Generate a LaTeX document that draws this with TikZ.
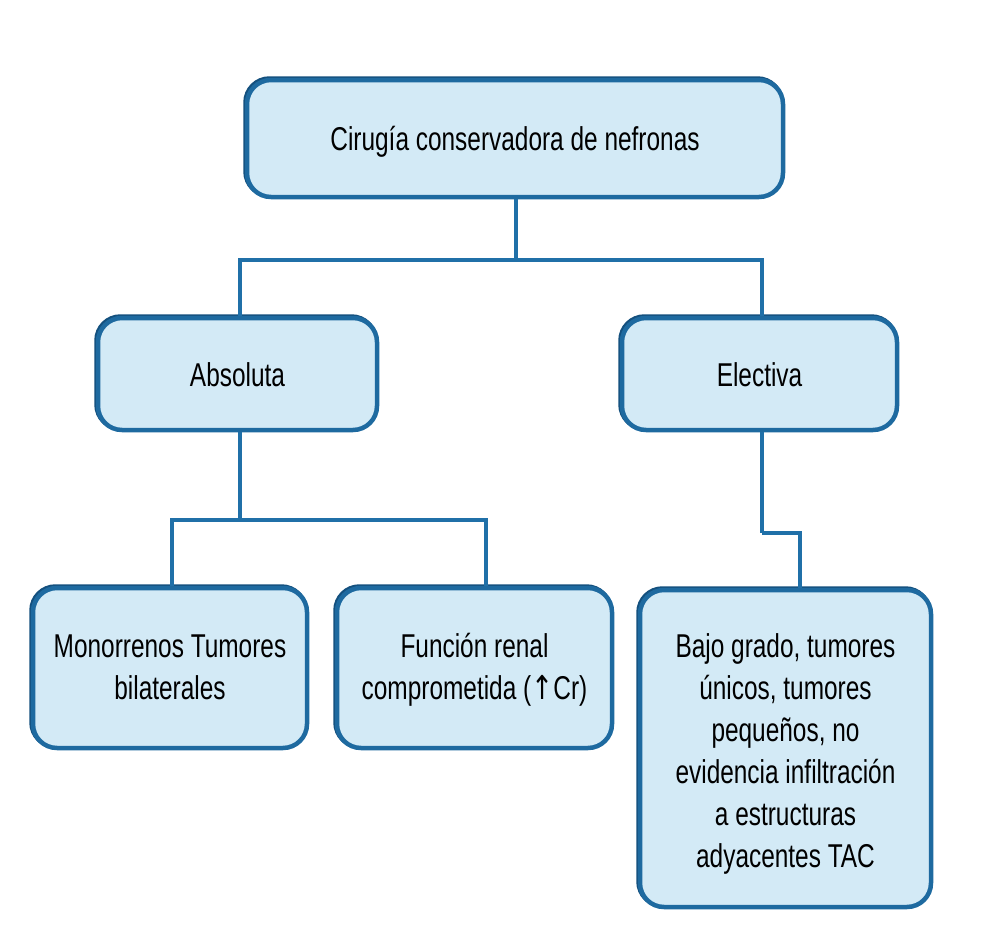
\documentclass[tikz,border=0pt]{standalone}
\usepackage{fontspec}
\setmainfont{Liberation Sans}[FakeStretch=0.74]
\newfontfamily\arrowfont{DejaVu Sans}[FakeStretch=0.8]
\definecolor{boxfill}{HTML}{D3EAF6}
\definecolor{boxedge}{HTML}{1E6AA0}
\definecolor{boxdark}{HTML}{14507E}
\definecolor{linecol}{HTML}{2070A8}
\newcommand{\lowtxt}[2]{\raisebox{-#1}[\height][\depth]{\setlength{\tabcolsep}{0pt}\begin{tabular}{c}#2\end{tabular}}}
\tikzset{
  box/.style={draw=boxedge, fill=boxfill, line width=4.5pt, rounded corners=24pt,
    align=center, inner sep=0pt, font=\fontsize{33}{42}\selectfont,
    preaction={draw=boxdark, line width=4.5pt, transform canvas={shift={(-1.5pt,1.5pt)}}}},
  conn/.style={draw=linecol, line width=3.5pt}
}
\begin{document}
\begin{tikzpicture}[x=1pt,y=-1pt]
\useasboundingbox (0,0) rectangle (983,929);
\node[box, minimum width=536pt, minimum height=117pt] (top) at (515,138.5) {\lowtxt{4pt}{Cirugía conservadora de nefronas}};
\node[box, minimum width=279pt, minimum height=112pt] (abs) at (237.5,374) {\lowtxt{4pt}{Absoluta}};
\node[box, minimum width=275pt, minimum height=112pt] (ele) at (759.5,374) {\lowtxt{4pt}{Electiva}};
\node[box, minimum width=274pt, minimum height=160pt] (mono) at (170,668) {\lowtxt{2pt}{Monorrenos Tumores\\bilaterales}};
\node[box, minimum width=275pt, minimum height=160pt] (fun) at (474.5,668) {\lowtxt{2pt}{Función renal\\comprometida ({\arrowfont ↑}Cr)}};
\node[box, minimum width=291pt, minimum height=317pt] (bajo) at (785.5,748.5) {\lowtxt{6pt}{Bajo grado, tumores\\únicos, tumores\\pequeños, no\\evidencia infiltración\\a estructuras\\adyacentes TAC}};
\coordinate (j1) at (516,260);
\coordinate (j2) at (240,520);
\coordinate (j3) at (762,533);
\draw[conn] (j1 |- top.south) -- (j1);
\draw[conn] (j1) -| ([xshift=2.5pt]abs.north);
\draw[conn] (j1) -| ([xshift=2.5pt]ele.north);
\draw[conn] ([xshift=2.5pt]abs.south) -- (j2);
\draw[conn] (j2) -| ([xshift=2pt]mono.north);
\draw[conn] (j2) -| ([xshift=11.5pt]fun.north);
\draw[conn] ([xshift=2.5pt]ele.south) -- (j3);
\draw[conn] (j3) -| ([xshift=14.5pt]bajo.north);
\end{tikzpicture}
\end{document}
